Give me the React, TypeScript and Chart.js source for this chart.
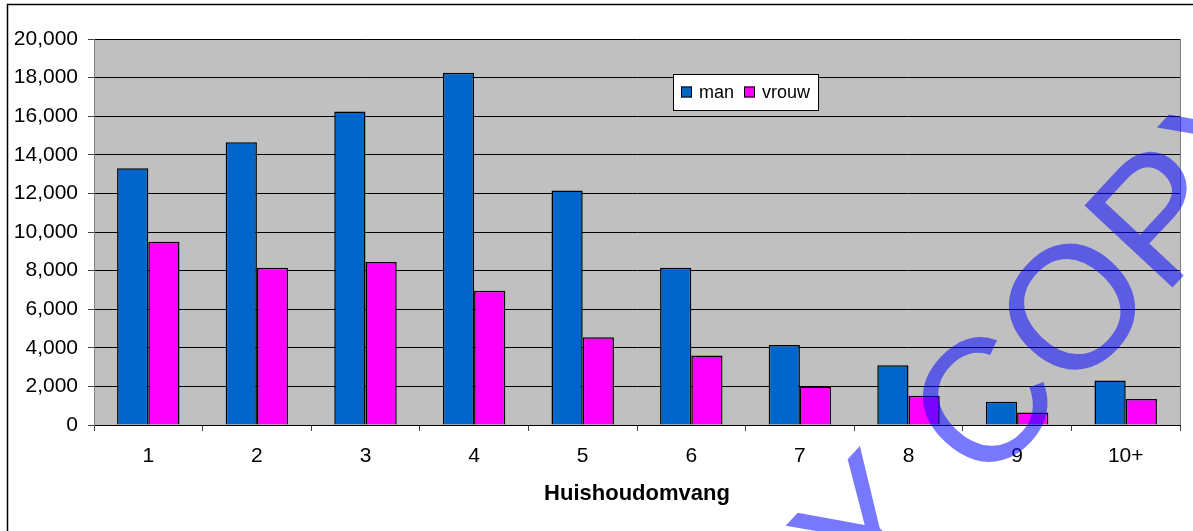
import React, { useEffect, useRef } from 'react';
import { Chart, registerables } from 'chart.js';

Chart.register(...registerables);

const categories = ['1', '2', '3', '4', '5', '6', '7', '8', '9', '10+'];
const manValues = [13300, 14650, 16250, 18250, 12150, 8150, 4150, 3100, 1200, 2300];
const vrouwValues = [9500, 8150, 8450, 6950, 4550, 3600, 2000, 1520, 650, 1350];
const seriesLabels = ['man', 'vrouw'];
const seriesColors = ['#0066CC', '#FF00FF'];
const xTitle = 'Huishoudomvang';
const yMin = 0;
const yMax = 20000;
const yStep = 2000;
const watermarkText = 'COPY';
const watermarkLead = 'Y ';

const FONT = "'Liberation Sans', Arial, Helvetica, sans-serif";

const framePlugin = {
  id: 'frame',
  beforeDraw(chart: any) {
    const { ctx, chartArea, width, height } = chart;
    ctx.save();
    ctx.fillStyle = '#FFFFFF';
    ctx.fillRect(0, 0, width, height);
    ctx.strokeStyle = '#000000';
    ctx.lineWidth = 1.5;
    ctx.strokeRect(7.5, 4.5, width + 20, height + 20);
    ctx.fillStyle = '#C0C0C0';
    ctx.fillRect(chartArea.left, chartArea.top, chartArea.right - chartArea.left, chartArea.bottom - chartArea.top);
    ctx.restore();
  },
  afterDraw(chart: any) {
    const { ctx, chartArea } = chart;
    ctx.save();
    // right edge of plot area
    ctx.strokeStyle = '#808080';
    ctx.lineWidth = 1;
    ctx.beginPath();
    ctx.moveTo(Math.round(chartArea.right) + 0.5, chartArea.top);
    ctx.lineTo(Math.round(chartArea.right) + 0.5, chartArea.bottom);
    ctx.stroke();

    // legend box
    const ds = chart.data.datasets;
    ctx.font = `18px ${FONT}`;
    const bx = 673;
    const by = 74;
    const bh = 36;
    const box = 11;
    let w = 8;
    ds.forEach((d: any, i: number) => {
      w += box + 7 + ctx.measureText(d.label).width + (i < ds.length - 1 ? 10 : 8);
    });
    ctx.fillStyle = '#FFFFFF';
    ctx.fillRect(bx, by, w, bh);
    ctx.strokeStyle = '#000000';
    ctx.lineWidth = 1;
    ctx.strokeRect(bx + 0.5, by + 0.5, w, bh);
    let x = bx + 8;
    const cy = by + bh / 2;
    ctx.textBaseline = 'middle';
    ctx.textAlign = 'left';
    ds.forEach((d: any) => {
      ctx.fillStyle = d.backgroundColor;
      ctx.fillRect(x, cy - 5.5, box, box);
      ctx.strokeStyle = '#000000';
      ctx.strokeRect(x + 0.5, cy - 5.5 + 0.5, box - 1, box - 1);
      x += box + 7;
      ctx.fillStyle = '#000000';
      ctx.fillText(d.label, x, cy + 1);
      x += ctx.measureText(d.label).width + 10;
    });

    // watermark
    const size = 175;
    ctx.font = `${size}px ${FONT}`;
    ctx.fillStyle = 'rgba(10,10,255,0.55)';
    ctx.translate(981, 401);
    ctx.rotate((-47 * Math.PI) / 180);
    const cW = ctx.measureText(watermarkText[0]).width;
    ctx.textBaseline = 'alphabetic';
    ctx.textAlign = 'left';
    ctx.fillText(watermarkText, -cW / 2, 0.358 * size);
    ctx.textAlign = 'right';
    ctx.fillText(watermarkLead, -cW / 2, 0.358 * size);
    ctx.restore();
  },
};

export default function App() {
  const ref = useRef<HTMLCanvasElement>(null);

  useEffect(() => {
    if (!ref.current) return;
    const chart = new Chart(ref.current, {
      type: 'bar',
      data: {
        labels: categories,
        datasets: [
          {
            label: seriesLabels[0],
            data: manValues,
            backgroundColor: seriesColors[0],
            borderColor: '#000000',
            borderWidth: 1.5,
            categoryPercentage: 0.575,
            barPercentage: 1.0,
          },
          {
            label: seriesLabels[1],
            data: vrouwValues,
            backgroundColor: seriesColors[1],
            borderColor: '#000000',
            borderWidth: 1.5,
            categoryPercentage: 0.575,
            barPercentage: 1.0,
          },
        ],
      },
      options: {
        animation: false,
        responsive: false,
        devicePixelRatio: 1,
        layout: { padding: { left: 0, right: 13, top: 39, bottom: 24 } },
        plugins: {
          legend: { display: false },
          tooltip: { enabled: false },
          title: { display: false },
        },
        scales: {
          x: {
            offset: true,
            grid: {
              drawOnChartArea: false,
              drawTicks: true,
              tickLength: 6,
              tickColor: '#404040',
              offset: true,
            },
            border: { color: '#000000', width: 1 },
            ticks: {
              color: '#000000',
              font: { family: FONT, size: 21 },
              padding: 13,
              maxRotation: 0,
              autoSkip: false,
            },
            title: {
              display: true,
              text: xTitle,
              color: '#000000',
              font: { family: FONT, size: 22, weight: 'bold' },
              padding: 0,
            },
            afterFit(scale: any) {
              scale.height = 82;
            },
          },
          y: {
            min: yMin,
            max: yMax,
            grid: {
              color: '#000000',
              lineWidth: 1,
              tickLength: 6,
              tickColor: '#404040',
            },
            border: { color: '#808080', width: 1 },
            ticks: {
              stepSize: yStep,
              color: '#000000',
              font: { family: FONT, size: 21 },
              padding: 10,
              callback: (v: any) => Number(v).toLocaleString('en-US'),
            },
            afterFit(scale: any) {
              scale.width = 94;
            },
          },
        },
      },
      plugins: [framePlugin],
    });
    return () => chart.destroy();
  }, []);

  return (
    <div style={{ position: 'absolute', left: 0, top: 0, width: 1193, height: 531 }}>
      <canvas ref={ref} width={1193} height={531} style={{ display: 'block' }} />
    </div>
  );
}
